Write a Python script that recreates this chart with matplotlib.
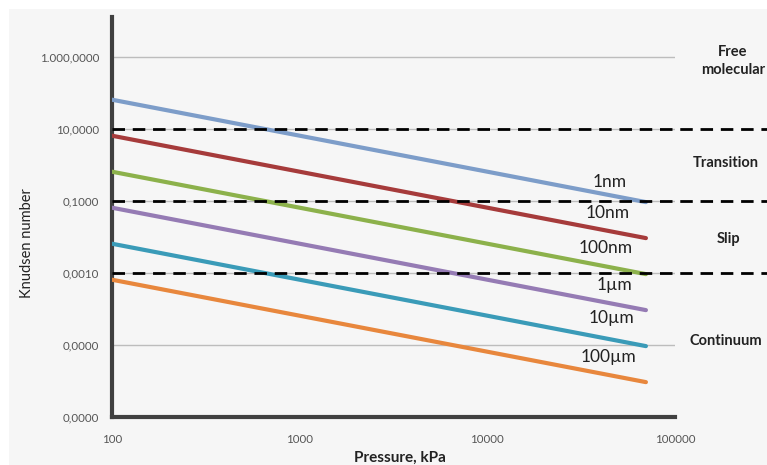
import numpy as np
import matplotlib.pyplot as plt
from matplotlib.patches import Rectangle
from matplotlib.ticker import FixedLocator, FuncFormatter, NullLocator

plt.rcParams['font.family'] = ['Lato', 'DejaVu Sans']

# pressure range of each line (kPa)
pressure = [100, 70000]

# Knudsen number at the two ends, one line per pore size
pore_labels = ['1nm', '10nm', '100nm', '1\u00b5m', '10\u00b5m', '100\u00b5m']
kn_start = [65, 6.5, 0.65, 0.065, 0.0065, 0.00065]
kn_end = [0.093, 0.0093, 0.00093, 0.000093, 0.0000093, 0.00000093]
colors = ['#7d9dc9', '#a63b3b', '#8cb14b', '#957bb4', '#3a9bb8', '#e8873d']

# regime boundaries
boundaries = [10, 0.1, 0.001]
regimes = ['Free\nmolecular', 'Transition', 'Slip', 'Continuum']

y_ticks = [1e-7, 1e-5, 1e-3, 1e-1, 1e1, 1e3]
x_ticks = [100, 1000, 10000, 100000]

W, H = 767, 465


def px(x, y):
    # pixel position -> figure fraction
    return x / W, 1 - y / H


fig = plt.figure(figsize=(W / 100, H / 100), dpi=100, facecolor='white')
fig.patches.append(Rectangle((9 / W, 0), 1, 1 - 9 / H, transform=fig.transFigure,
                             facecolor='#f6f6f6', edgecolor='none', zorder=-10))

x0, y0 = px(112, 417)
x1, y1 = px(675, 17)
ax = fig.add_axes([x0, y0, x1 - x0, y1 - y0])
ax.set_facecolor('none')
ax.set_xscale('log')
ax.set_yscale('log')
ax.set_xlim(100, 100000)
ax.set_ylim(1e-7, 10 ** 4.11)

for s, e, c in zip(kn_start, kn_end, colors):
    ax.plot(pressure, [s, e], color=c, lw=3, solid_capstyle='round', zorder=3)

for b in boundaries:
    ax.axhline(b, xmin=0, xmax=1.17, color='black', lw=2, ls=(0, (4.5, 2.8)),
               clip_on=False, zorder=4)

ax.yaxis.set_major_locator(FixedLocator(y_ticks))
ax.yaxis.set_minor_locator(NullLocator())
ax.xaxis.set_major_locator(FixedLocator(x_ticks))
ax.xaxis.set_minor_locator(NullLocator())


def euro_fmt(v, pos):
    s = f"{v:,.4f}"
    return s.replace(',', 'X').replace('.', ',').replace('X', '.')


ax.yaxis.set_major_formatter(FuncFormatter(euro_fmt))
ax.xaxis.set_major_formatter(FuncFormatter(lambda v, p: f"{int(v)}"))
ax.tick_params(length=0, labelsize=8.3, colors='#555555')
ax.tick_params(axis='y', pad=9)
ax.tick_params(axis='x', pad=12)
ax.yaxis.grid(True, color='#bdbdbd', lw=1)
ax.set_axisbelow(True)

for side in ['top', 'right']:
    ax.spines[side].set_visible(False)
for side in ['left', 'bottom']:
    ax.spines[side].set_color('#404040')
    ax.spines[side].set_linewidth(3)

fig.text(*px(27, 243), 'Knudsen number', rotation=90, ha='center', va='center',
         fontsize=10.5, color='#222222')
fig.text(*px(400, 458), 'Pressure, kPa', ha='center', va='center',
         fontsize=11, fontweight='bold', color='#222222')

# pore size labels near the line ends
label_pos = [(610, 182), (608, 213), (606, 248), (614, 285), (611, 318), (608, 357)]
for t, (lx, ly) in zip(pore_labels, label_pos):
    fig.text(*px(lx, ly), t, ha='center', va='center', fontsize=12.5, color='#222222')

# regime names on the right
regime_pos = [(733, 61, 'center'), (693, 163, 'left'), (717, 239, 'left'), (690, 341, 'left')]
for t, (rx, ry, ha) in zip(regimes, regime_pos):
    fig.text(*px(rx, ry), t, ha=ha, va='center', fontsize=10.5, fontweight='bold',
             color='#222222', linespacing=1.3)

fig.savefig('out.png', dpi=100, facecolor=fig.get_facecolor())
